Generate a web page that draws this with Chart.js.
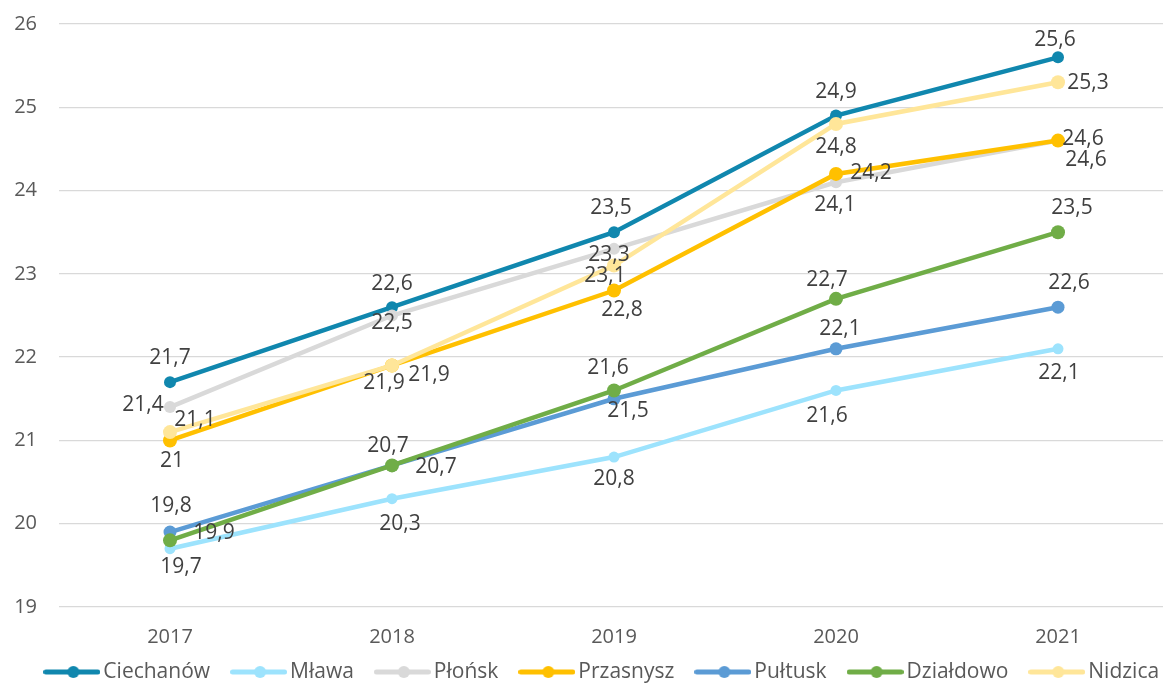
<!DOCTYPE html>
<html><head><meta charset="utf-8">
<script src="https://cdn.jsdelivr.net/npm/chart.js@4.4.0/dist/chart.umd.min.js"></script>
<style>html,body{margin:0;padding:0;background:#fff;overflow:hidden}
#wrap{position:relative;width:1176px;height:684px}</style>
</head><body><div id="wrap"><canvas id="c"></canvas></div>
<script>
// ---- data ----
const years = ['2017', '2018', '2019', '2020', '2021'];
const seriesNames = ['Ciechanów', 'Mława', 'Płońsk', 'Przasnysz', 'Pułtusk', 'Działdowo', 'Nidzica'];
const ciechanow = [21.7, 22.6, 23.5, 24.9, 25.6];
const mlawa = [19.7, 20.3, 20.8, 21.6, 22.1];
const plonsk = [21.4, 22.5, 23.3, 24.1, 24.6];
const przasnysz = [21.0, 21.9, 22.8, 24.2, 24.6];
const pultusk = [19.9, 20.7, 21.5, 22.1, 22.6];
const dzialdowo = [19.8, 20.7, 21.6, 22.7, 23.5];
const nidzica = [21.1, 21.9, 23.1, 24.8, 25.3];
const yTicks = [19, 20, 21, 22, 23, 24, 25, 26];

// ---- styles ----
const colors = ['#1087AE', '#9DE3FD', '#D9D9D9', '#FFC000', '#5B9BD5', '#70AD47', '#FFE699'];
const radii = [6, 5.5, 6, 7, 6.5, 7, 7];
// data label placement relative to each point (dx, dy in px)
const labelOffsets = [
  [[0,-24],[0,-23],[-3,-24],[0,-24],[-3,-17]],
  [[11,18],[8,25],[0,22],[-9,26],[1,24]],
  [[-27,-2],[0,8],[-5,6],[-1,23],[28,19]],
  [[2,21],[37,10],[8,20],[35,-1],[25,-2]],
  [[44,1],[44,2],[14,12],[4,-20],[11,-24]],
  [[1,-34],[-4,-19],[-6,-22],[-9,-19],[14,-24]],
  [[25,-12],[-8,18],[-9,10],[0,23],[30,1]]
];
const seriesData = [ciechanow, mlawa, plonsk, przasnysz, pultusk, dzialdowo, nidzica];

const FONT = "'Open Sans', 'Noto Sans', sans-serif";

function legendIcon(color) {
  const c = document.createElement('canvas');
  c.width = 57; c.height = 16;
  const g = c.getContext('2d');
  g.strokeStyle = color; g.lineWidth = 5; g.lineCap = 'round';
  g.beginPath(); g.moveTo(2.5, 8); g.lineTo(54.5, 8); g.stroke();
  g.fillStyle = color; g.beginPath(); g.arc(30, 8, 6, 0, Math.PI * 2); g.fill();
  return c;
}
const icons = colors.map(c => legendIcon(c));

const datasets = seriesNames.map((name, i) => ({
  label: name,
  data: seriesData[i],
  borderColor: colors[i],
  backgroundColor: colors[i],
  borderWidth: 4.5,
  pointRadius: radii[i],
  pointHoverRadius: radii[i],
  pointBorderWidth: 0,
  tension: 0,
  order: seriesNames.length - 1 - i,
  labelOffsets: labelOffsets[i]
}));

const dataLabels = {
  id: 'dataLabels',
  afterDatasetsDraw(chart) {
    const ctx = chart.ctx;
    ctx.save();
    ctx.font = "21px " + FONT;
    ctx.fillStyle = '#404040';
    ctx.textAlign = 'center';
    ctx.textBaseline = 'middle';
    chart.data.datasets.forEach((ds, di) => {
      const meta = chart.getDatasetMeta(di);
      meta.data.forEach((pt, j) => {
        const off = ds.labelOffsets[j];
        const txt = String(ds.data[j]).replace('.', ',');
        ctx.fillText(txt, pt.x + off[0], pt.y + off[1]);
      });
    });
    ctx.restore();
  }
};

const legendShift = {
  id: 'legendShift',
  afterLayout(chart) {
    const lg = chart.legend;
    if (lg) { lg.left += 17; lg.right += 17; lg.top -= 10; lg.bottom -= 10; }
  }
};

new Chart(document.getElementById('c'), {
  type: 'line',
  data: { labels: years, datasets },
  plugins: [dataLabels, legendShift],
  options: {
    responsive: true,
    maintainAspectRatio: false,
    animation: false,
    events: [],
    layout: { padding: { top: 24, left: 0, right: 0, bottom: -18.5 } },
    plugins: {
      tooltip: { enabled: false },
      legend: {
        position: 'bottom',
        labels: {
          usePointStyle: true,
          pointStyleWidth: 42,
          padding: 27.5,
          color: '#595959',
          font: { size: 21, family: FONT },
          generateLabels(chart) {
            const items = Chart.defaults.plugins.legend.labels.generateLabels(chart);
            items.forEach(it => { it.pointStyle = icons[it.datasetIndex]; });
            return items.sort((a, b) => a.datasetIndex - b.datasetIndex);
          }
        }
      }
    },
    scales: {
      x: {
        type: 'category',
        offset: true,
        grid: { display: false, drawTicks: false },
        border: { display: false },
        ticks: { color: '#595959', font: { size: 20, family: FONT }, padding: 18 },
        afterFit(s) { s.height = 37; }
      },
      y: {
        min: 19, max: 26,
        grid: { color: '#D9D9D9', lineWidth: 1.3, drawTicks: false },
        border: { display: false },
        ticks: { color: '#595959', font: { size: 20, family: FONT }, padding: 22 },
        afterBuildTicks(s) { s.ticks = yTicks.map(v => ({ value: v })); },
        afterFit(s) { s.width = 59; s.paddingTop = 0; s.paddingBottom = 0; }
      }
    }
  }
});
</script></body></html>
